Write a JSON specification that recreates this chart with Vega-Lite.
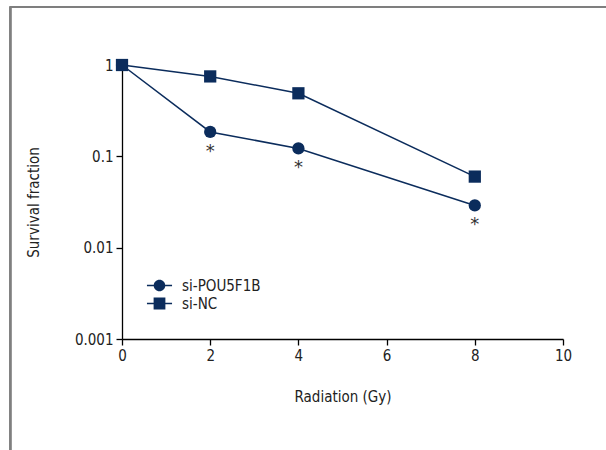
{
  "$schema": "https://vega.github.io/schema/vega-lite/v6.json",
  "width": 441,
  "height": 274,
  "autosize": {"type": "none"},
  "padding": {"left": 122, "top": 65, "right": 43, "bottom": 111},
  "background": "white",
  "config": {
    "view": {"stroke": null},
    "font": "DejaVu Sans Condensed, DejaVu Sans, sans-serif",
    "axis": {
      "labelFont": "DejaVu Sans Condensed, DejaVu Sans, sans-serif",
      "titleFont": "DejaVu Sans Condensed, DejaVu Sans, sans-serif",
      "labelFontSize": 15,
      "titleFontSize": 15,
      "titleFontWeight": "normal",
      "labelColor": "#222222",
      "titleColor": "#222222",
      "domainColor": "#000000",
      "tickColor": "#000000",
      "domainWidth": 1.3,
      "tickWidth": 1.3,
      "tickSize": 6,
      "labelPadding": 3,
      "labelFlush": false,
      "grid": false
    },
    "legend": {
      "labelFont": "DejaVu Sans Condensed, DejaVu Sans, sans-serif",
      "labelFontSize": 15,
      "labelColor": "#222222"
    }
  },
  "data": {
    "values": [
      {"Dose": 0, "Survival": 1, "Group": "si-POU5F1B", "Sig": ""},
      {"Dose": 2, "Survival": 0.185, "Group": "si-POU5F1B", "Sig": "*"},
      {"Dose": 4, "Survival": 0.122, "Group": "si-POU5F1B", "Sig": "*"},
      {"Dose": 8, "Survival": 0.029, "Group": "si-POU5F1B", "Sig": "*"},
      {"Dose": 0, "Survival": 1, "Group": "si-NC", "Sig": ""},
      {"Dose": 2, "Survival": 0.75, "Group": "si-NC", "Sig": ""},
      {"Dose": 4, "Survival": 0.49, "Group": "si-NC", "Sig": ""},
      {"Dose": 8, "Survival": 0.06, "Group": "si-NC", "Sig": ""}
    ]
  },
  "resolve": {"scale": {"shape": "independent"}, "legend": {"shape": "independent"}},
  "layer": [
    {
      "mark": {"type": "rect", "fill": null, "stroke": "#7f7f7f", "strokeWidth": 1.5, "clip": false},
      "encoding": {
        "x": {"datum": -2.53, "type": "quantitative", "scale": {"domain": [0, 10], "nice": false, "zero": false}},
        "x2": {"datum": 30},
        "y": {"datum": 4.3, "type": "quantitative", "scale": {"type": "log", "domain": [0.001, 1], "nice": false}},
        "y2": {"datum": 0.000001}
      }
    },
    {
      "mark": {"type": "line", "color": "#0b2c5c", "strokeWidth": 1.5},
      "encoding": {
        "x": {"field": "Dose", "type": "quantitative", "scale": {"domain": [0, 10], "nice": false, "zero": false},
          "axis": {"values": [0, 2, 4, 6, 8, 10], "title": "Radiation (Gy)", "titlePadding": 26}},
        "y": {"field": "Survival", "type": "quantitative", "scale": {"type": "log", "domain": [0.001, 1], "nice": false},
          "axis": {"values": [0.001, 0.01, 0.1, 1], "format": "~g", "title": "Survival fraction", "titlePadding": 33}},
        "detail": {"field": "Group"}
      }
    },
    {
      "transform": [{"filter": "false"}],
      "mark": {"type": "point", "filled": true, "opacity": 1, "size": 361, "color": "#0b2c5c", "strokeWidth": 0},
      "encoding": {
        "x": {"field": "Dose", "type": "quantitative"},
        "y": {"field": "Survival", "type": "quantitative"},
        "shape": {
          "field": "Group", "type": "nominal",
          "scale": {"domain": ["si-POU5F1B", "si-NC"], "range": [
            "M-1.32,-0.08 H1.32 V0.08 H-1.32 Z M0.61,0 A0.61,0.61 0 1,1 -0.61,0 A0.61,0.61 0 1,1 0.61,0 Z",
            "M-1.32,-0.08 H1.32 V0.08 H-1.32 Z M-0.62,-0.62 H0.62 V0.62 H-0.62 Z"
          ]},
          "legend": {
            "title": null,
            "orient": "none",
            "legendX": 28,
            "legendY": 211,
            "padding": 0,
            "rowPadding": 0,
            "symbolSize": 361,
            "symbolFillColor": "#0b2c5c",
            "symbolStrokeWidth": 0,
            "symbolOpacity": 1,
            "labelOffset": 13
          }
        }
      }
    },
    {
      "mark": {"type": "point", "filled": true, "opacity": 1, "size": 150, "color": "#0b2c5c"},
      "encoding": {
        "x": {"field": "Dose", "type": "quantitative"},
        "y": {"field": "Survival", "type": "quantitative"},
        "shape": {
          "field": "Group", "type": "nominal",
          "scale": {"domain": ["si-POU5F1B", "si-NC"], "range": ["circle", "square"]},
          "legend": null
        }
      }
    },
    {
      "transform": [{"filter": "datum.Sig !== ''"}],
      "mark": {"type": "text", "dy": 20, "fontSize": 18, "color": "#333333", "font": "DejaVu Sans"},
      "encoding": {
        "x": {"field": "Dose", "type": "quantitative"},
        "y": {"field": "Survival", "type": "quantitative"},
        "text": {"field": "Sig"}
      }
    }
  ]
}
